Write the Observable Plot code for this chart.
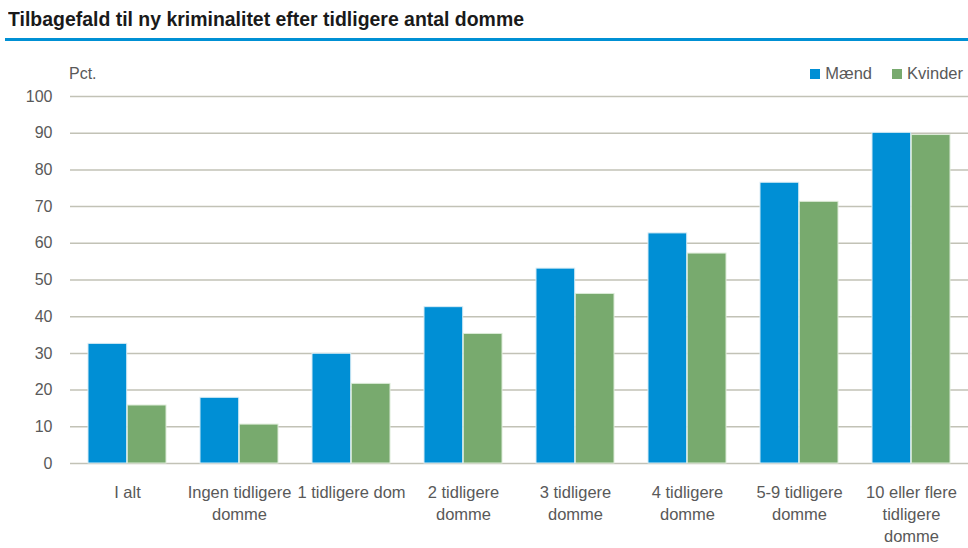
<!DOCTYPE html>
<html>
<head>
<meta charset="utf-8">
<script src="https://cdn.jsdelivr.net/npm/d3@7"></script>
<script src="https://cdn.jsdelivr.net/npm/@observablehq/plot@0.6"></script>
<style>
  html, body { margin: 0; padding: 0; background: #fff; }
  #wrap { position: relative; width: 968px; height: 548px; overflow: hidden; font-family: "Liberation Sans", Arial, sans-serif; }
  #title { position: absolute; left: 8px; top: 8px; font-family: "Liberation Sans Narrow", "Arial Narrow", "Liberation Sans", sans-serif; font-weight: bold; font-size: 20px; color: #1a1a1a; white-space: nowrap; transform: scaleX(0.972); transform-origin: left top; }
  #rule { position: absolute; left: 5px; right: 0; top: 38px; height: 3px; background: #0090d4; }
  #unit { position: absolute; left: 69px; top: 65px; font-size: 16px; color: #595959; }
  #legend { position: absolute; right: 5px; top: 64px; font-size: 16.5px; color: #595959; display: flex; align-items: center; }
  #legend .sw { width: 10px; height: 10px; display: inline-block; margin-right: 5px; }
  #legend .item { display: flex; align-items: center; margin-left: 20px; }
  #chart { position: absolute; left: 0; top: 41px; }
</style>
</head>
<body>
<div id="wrap">
  <div id="title">Tilbagefald til ny kriminalitet efter tidligere antal domme</div>
  <div id="rule"></div>
  <div id="unit">Pct.</div>
  <div id="legend"></div>
  <div id="chart"></div>
</div>
<script>
const categories = ["I alt", "Ingen tidligere domme", "1 tidligere dom", "2 tidligere domme", "3 tidligere domme", "4 tidligere domme", "5-9 tidligere domme", "10 eller flere tidligere domme"];
const tickLabels = ["I alt", "Ingen tidligere\ndomme", "1 tidligere dom", "2 tidligere\ndomme", "3 tidligere\ndomme", "4 tidligere\ndomme", "5-9 tidligere\ndomme", "10 eller flere\ntidligere\ndomme"];
const seriesNames = ["Mænd", "Kvinder"];
const seriesColors = ["#008fd5", "#78aa6e"];
const maend = [32.6, 17.9, 29.9, 42.6, 53.1, 62.7, 76.5, 90.1];
const kvinder = [15.8, 10.6, 21.7, 35.3, 46.2, 57.2, 71.3, 89.5];
const yTicks = [0, 10, 20, 30, 40, 50, 60, 70, 80, 90, 100];

const dataM = categories.map((c, i) => ({cat: c, value: maend[i]}));
const dataK = categories.map((c, i) => ({cat: c, value: kvinder[i]}));

const W = 968, H = 507, mL = 70, mR = 0, mT = 55, mB = 85;
const pIn = 0.3, pOut = 0.15;
const step = (W - mL - mR) / (categories.length - pIn + 2 * pOut);
const half = step * (1 - pIn) / 2;

const legend = document.getElementById("legend");
seriesNames.forEach((s, i) => {
  const it = document.createElement("div");
  it.className = "item";
  it.innerHTML = `<span class="sw" style="background:${seriesColors[i]}"></span><span>${s}</span>`;
  legend.appendChild(it);
});

const chart = Plot.plot({
  width: W, height: H,
  marginLeft: mL, marginRight: mR, marginTop: mT, marginBottom: mB,
  style: {fontFamily: "'Liberation Sans', Arial, sans-serif", fontSize: "16px", color: "#595959", background: "transparent"},
  x: {domain: categories, paddingInner: pIn, paddingOuter: pOut, label: null, axis: null},
  y: {domain: [0, 100], label: null, axis: null},
  marks: [
    Plot.ruleY(yTicks, {stroke: "#c2c2b6", strokeWidth: 1.5}),
    Plot.barY(dataM, {x: "cat", y: "value", fill: seriesColors[0], stroke: "#d8ecf5", strokeWidth: 1, insetRight: half}),
    Plot.barY(dataK, {x: "cat", y: "value", fill: seriesColors[1], stroke: "#dcebd8", strokeWidth: 1, insetLeft: half}),
    Plot.axisY({ticks: yTicks, tickSize: 0, tickPadding: 18, fontSize: 16, fill: "#595959", label: null}),
    Plot.axisX({tickSize: 0, tickPadding: 19, fontSize: 16.5, fill: "#595959", lineHeight: 1.33, label: null,
      tickFormat: d => tickLabels[categories.indexOf(d)]})
  ]
});
document.getElementById("chart").appendChild(chart);
</script>
</body>
</html>
